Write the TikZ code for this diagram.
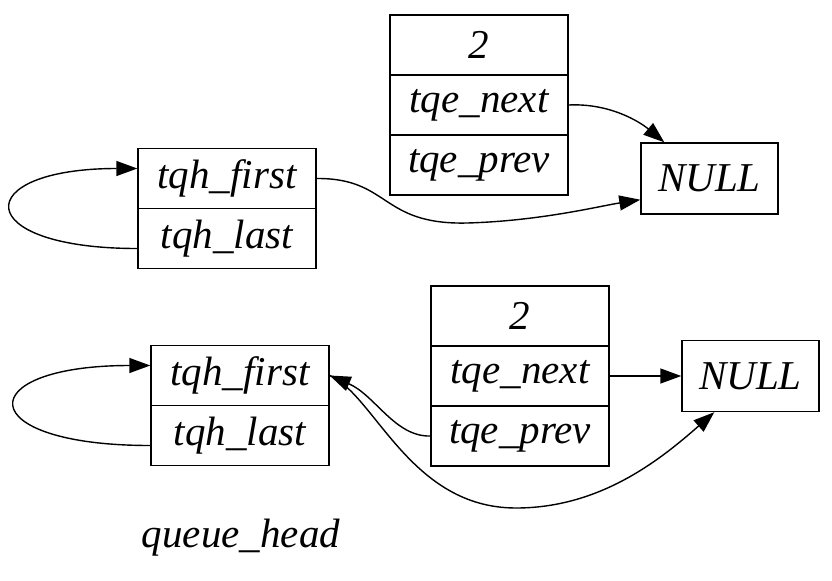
\documentclass[tikz,border=0pt]{standalone}
\usepackage{fontspec}
\setmainfont{Liberation Serif}
\usetikzlibrary{arrows.meta}
\begin{document}
\begin{tikzpicture}[x=0.5pt,y=-0.5pt,
  field/.style={draw,line width=0.7pt,minimum width=89pt,minimum height=30pt,inner sep=0pt,font=\fontsize{20.5}{24}\selectfont\itshape},
  nullbox/.style={field,minimum width=68.5pt,minimum height=35.5pt},
  link/.style={-{Triangle[length=10.5pt,width=7.5pt]},line width=0.7pt}]
\useasboundingbox (0,0) rectangle (832,580);
% first state
\node[field](H1first) at (227,178.5) {tqh\_first};
\node[field](H1last) at (227,238.5) {tqh\_last};
\node[field](E1val) at (479,45) {2};
\node[field](E1next) at (479,105) {tqe\_next};
\node[field](E1prev) at (479,165) {tqe\_prev};
\node[nullbox](Null1) at (709.5,178.5) {NULL};
\draw[link]([yshift=-5pt]H1last.west) .. controls +(-84pt,0) and +(-84pt,0) .. ([yshift=5pt]H1first.west);
\draw[link](H1first.east) .. controls (390,178) and (380,225) .. (467,223) .. controls (540,221) and (600,206) .. ([yshift=7.5pt]Null1.south west);
\draw[link](E1next.east) .. controls (610,103) and (640,122) .. ([xshift=12pt]Null1.north west);
% second state
\node[field](H2first) at (240,375.5) {tqh\_first};
\node[field](H2last) at (240,435.5) {tqh\_last};
\node[field](E2val) at (520,316) {2};
\node[field](E2next) at (520,376) {tqe\_next};
\node[field](E2prev) at (520,436) {tqe\_prev};
\node[nullbox](Null2) at (750.5,376) {NULL};
\draw[link]([yshift=-5pt]H2last.west) .. controls +(-90pt,0) and +(-90pt,0) .. ([yshift=5pt]H2first.west);
\draw[link](E2next.east) -- (Null2.west);
\draw[link](E2prev.west) .. controls (395,437) and (375,395) .. (H2first.east);
\draw[link](H2first.east) .. controls (375,395) and (410,508) .. (516,508) .. controls (600,508) and (660,460) .. ([xshift=16.5pt]Null2.south west);
\node[font=\fontsize{20.5}{24}\selectfont\itshape](qhead) at (241,538) {queue\_head};
\end{tikzpicture}
\end{document}
